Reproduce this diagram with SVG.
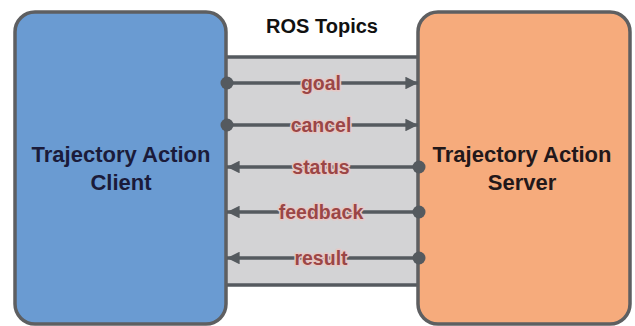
<svg xmlns="http://www.w3.org/2000/svg" width="635" height="326" viewBox="0 0 635 326">
  <defs>
    <style>
      .box { stroke: #5e5f61; stroke-width: 3.5; }
      .title { font-family: "Liberation Sans", Arial, sans-serif; font-weight: bold; font-size: 20px; fill: #111; text-anchor: middle; }
      .node { font-family: "Liberation Sans", Arial, sans-serif; font-weight: bold; font-size: 22px; text-anchor: middle; }
      .lbl { font-family: "Liberation Sans", Arial, sans-serif; font-weight: bold; font-size: 19.5px; fill: #9b4646; text-anchor: middle; stroke: #e6c9c6; stroke-width: 3; paint-order: stroke; stroke-linejoin: round; }
      .wire { stroke: #555a5f; stroke-width: 3.5; fill: none; }
      .dot { fill: #555a5f; }
    </style>
    <marker id="ah" viewBox="0 0 10 10" refX="10" refY="5" markerWidth="5" markerHeight="3.6" orient="auto" markerUnits="strokeWidth">
      <path d="M0,0 L10,5 L0,10 z" fill="#555a5f"/>
    </marker>
  </defs>
  <rect width="635" height="326" fill="#ffffff"/>

  <g id="ros-topics">
    <rect x="226" y="57" width="192" height="228" fill="#d3d3d5"/>
    <line x1="226" y1="57" x2="418" y2="57" class="wire"/>
    <line x1="226" y1="285" x2="418" y2="285" class="wire"/>
    <text x="322" y="33" class="title">ROS Topics</text>
  </g>

  <g id="client">
    <rect x="15" y="12" width="211" height="312" rx="20" ry="20" fill="#6a9bd2" class="box"/>
    <text x="121" y="162" class="node" fill="#1b1b3a">Trajectory Action</text>
    <text x="121" y="190" class="node" fill="#1b1b3a">Client</text>
  </g>

  <g id="server">
    <rect x="418" y="12" width="212" height="312" rx="20" ry="20" fill="#f6ab7c" class="box"/>
    <text x="522" y="162" class="node" fill="#22181a">Trajectory Action</text>
    <text x="522" y="190" class="node" fill="#22181a">Server</text>
  </g>

  <g id="connectors">
    <line x1="227" y1="83" x2="418" y2="83" class="wire" marker-end="url(#ah)"/>
    <circle cx="227" cy="83" r="6.5" class="dot"/>
    <line x1="227" y1="125" x2="418" y2="125" class="wire" marker-end="url(#ah)"/>
    <circle cx="227" cy="125" r="6.5" class="dot"/>
    <line x1="419" y1="167" x2="227" y2="167" class="wire" marker-end="url(#ah)"/>
    <circle cx="419" cy="167" r="6.5" class="dot"/>
    <line x1="419" y1="212" x2="227" y2="212" class="wire" marker-end="url(#ah)"/>
    <circle cx="419" cy="212" r="6.5" class="dot"/>
    <line x1="419" y1="258" x2="227" y2="258" class="wire" marker-end="url(#ah)"/>
    <circle cx="419" cy="258" r="6.5" class="dot"/>
    <text x="321" y="90" class="lbl">goal</text>
    <text x="321" y="132" class="lbl">cancel</text>
    <text x="321" y="174" class="lbl">status</text>
    <text x="321" y="219" class="lbl">feedback</text>
    <text x="321" y="265" class="lbl">result</text>
  </g>
</svg>
